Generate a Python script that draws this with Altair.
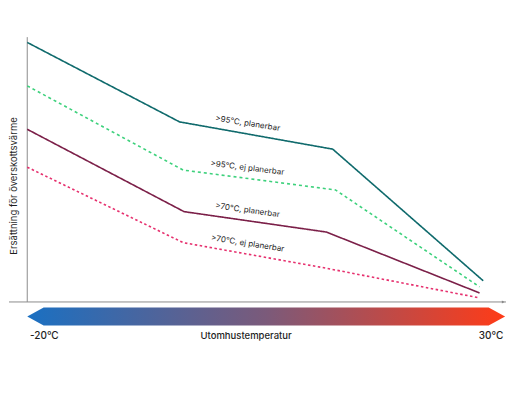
import numpy as np
import pandas as pd
import altair as alt

# Readings: outdoor temperature (°C) and relative compensation
series_names = [">95°C, planerbar", ">95°C, ej planerbar", ">70°C, planerbar", ">70°C, ej planerbar"]
temp_teal = [-20, -3.3, 13.5, 30]
comp_teal = [98, 68, 57.7, 8]
temp_green = [-20, -2.9, 13.8, 29.6]
comp_green = [81.6, 49.8, 42.3, 5.7]
temp_maroon = [-20, -2.8, 12.8, 29.6]
comp_maroon = [65.2, 34.1, 26.4, 3.4]
temp_pink = [-20, -2.9, 12.7, 29.5]
comp_pink = [50.9, 22.4, 12.8, 1.6]

line_colors = ["#0f6a6c", "#3dd17c", "#7b1f48", "#e6306e"]
line_dashes = [[1, 0], [3, 3], [1, 0], [2.5, 2.5]]
label_angles = [9, 7, 8, 9]

temp_min, temp_max = -20, 30
x_domain = [-22, 32.5]
y_domain = [-34, 111]

temps = [temp_teal, temp_green, temp_maroon, temp_pink]
comps = [comp_teal, comp_green, comp_maroon, comp_pink]

font = "Inter"

# line data
rows = []
for name, t, c in zip(series_names, temps, comps):
    for i, (tt, cc) in enumerate(zip(t, c)):
        rows.append({"serie": name, "temp": tt, "comp": cc, "order": i})
lines_df = pd.DataFrame(rows)

x_scale = alt.Scale(domain=x_domain, nice=False, zero=False)
y_scale = alt.Scale(domain=y_domain, nice=False, zero=False)
X = lambda f: alt.X(f, type="quantitative", scale=x_scale, axis=None)
Y = lambda f: alt.Y(f, type="quantitative", scale=y_scale, axis=None)

layers = []

# axes drawn as rules
axes_df = pd.DataFrame({"x": [x_domain[0], temp_min], "x2": [x_domain[1], temp_min],
                        "y": [0, 0], "y2": [0, 100]})
layers.append(alt.Chart(axes_df).mark_rule(color="#8c8c8c", strokeWidth=1).encode(
    x=X("x"), x2="x2", y=Y("y"), y2="y2"))
arrow_df = pd.DataFrame({"x": [x_domain[1] - 0.3], "y": [0]})
layers.append(alt.Chart(arrow_df).mark_point(shape="triangle-right", filled=True, size=10,
                                             color="#6e6e6e").encode(x=X("x"), y=Y("y")))

# the four series
for name, col, dash in zip(series_names, line_colors, line_dashes):
    layers.append(alt.Chart(lines_df[lines_df.serie == name]).mark_line(
        color=col, strokeWidth=1.6, strokeDash=dash).encode(
        x=X("temp"), y=Y("comp"), order="order:Q"))

# line labels, placed on each series a little above the second segment
label_temp = 4.0
for name, t, c, ang in zip(series_names, temps, comps, label_angles):
    ly = float(np.interp(label_temp, t, c))
    ldf = pd.DataFrame({"temp": [label_temp], "comp": [ly], "txt": [name]})
    layers.append(alt.Chart(ldf).mark_text(font=font, fontSize=8, color="#1e1e1e",
                                            angle=ang, dy=-10, align="center", baseline="middle").encode(
        x=X("temp"), y=Y("comp"), text="txt:N"))

# temperature gradient arrow
bar_df = pd.DataFrame({"x": [temp_min, -18.2, 30.6, 32.4],
                       "y": [-5.5, -2.1, -2.1, -5.5],
                       "y2": [-5.5, -8.9, -8.9, -5.5]})
gradient = alt.Gradient(gradient="linear", x1=0, x2=1, y1=0, y2=0,
                        stops=[alt.GradientStop(color="#1a70c2", offset=0),
                               alt.GradientStop(color="#7b5a7a", offset=0.5),
                               alt.GradientStop(color="#ff3b17", offset=1)])
layers.append(alt.Chart(bar_df).mark_area(color=gradient, interpolate="linear").encode(
    x=X("x"), y=Y("y"), y2="y2"))

# texts under the arrow
bottom_df = pd.DataFrame({"x": [temp_min + 0.3], "y": [-12.9], "t": ["-20°C"]})
layers.append(alt.Chart(bottom_df).mark_text(font=font, fontSize=10, fontWeight=500, color="#1e1e1e",
                                              align="left", baseline="middle").encode(
    x=X("x"), y=Y("y"), text="t:N"))
bottom_df2 = pd.DataFrame({"x": [32.2], "y": [-12.9], "t": ["30°C"]})
layers.append(alt.Chart(bottom_df2).mark_text(font=font, fontSize=10, fontWeight=500, color="#1e1e1e",
                                               align="right", baseline="middle").encode(
    x=X("x"), y=Y("y"), text="t:N"))
bottom_df3 = pd.DataFrame({"x": [4.0], "y": [-12.9], "t": ["Utomhustemperatur"]})
layers.append(alt.Chart(bottom_df3).mark_text(font=font, fontSize=9.5, fontWeight=500, color="#1e1e1e",
                                               align="center", baseline="middle").encode(
    x=X("x"), y=Y("y"), text="t:N"))

# y title
ytitle_df = pd.DataFrame({"x": [-21.45], "y": [43.8], "t": ["Ersättning för överskottsvärme"]})
layers.append(alt.Chart(ytitle_df).mark_text(font=font, fontSize=9.5, color="#1e1e1e", angle=270,
                                              align="center", baseline="middle").encode(
    x=X("x"), y=Y("y"), text="t:N"))

chart = alt.layer(*layers).properties(
    width=497, height=384,
    padding={"left": 0, "top": 0, "right": 0, "bottom": 0},
    background="white",
).configure_view(strokeWidth=0)

chart.save("out.html", embed_options={"renderer": "svg", "actions": False})
